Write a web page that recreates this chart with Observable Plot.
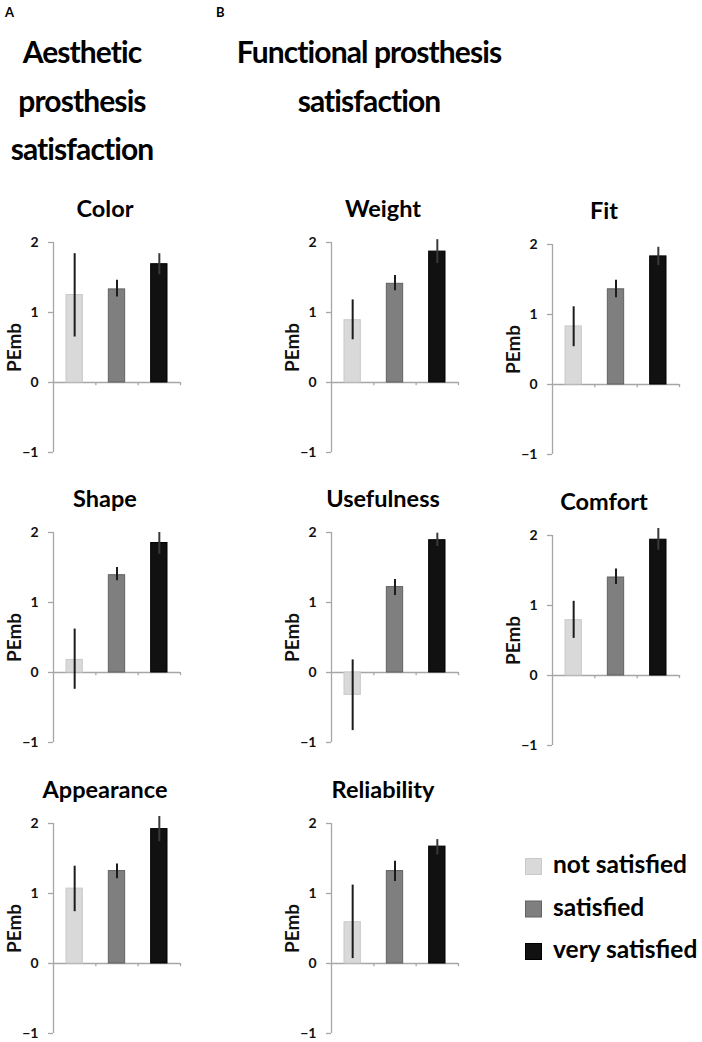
<!DOCTYPE html>
<html><head><meta charset="utf-8">
<script src="https://cdn.jsdelivr.net/npm/d3@7"></script>
<script src="https://cdn.jsdelivr.net/npm/@observablehq/plot@0.6"></script>
<style>
html,body{margin:0;padding:0;background:#fff;}
body{width:702px;height:1042px;overflow:hidden;position:relative;font-family:Lato,"Open Sans",sans-serif;}
#page{position:relative;width:702px;height:1042px;}
.panel{position:absolute;}
#overlay{position:absolute;left:0;top:0;}
</style>
</head><body>
<div id="page"></div>
<script>
// ---------- data ----------
const groups = ["not satisfied", "satisfied", "very satisfied"];
const panelNames = ["Color", "Shape", "Appearance", "Weight", "Usefulness", "Reliability", "Fit", "Comfort"];
const yTicks = [-1, 0, 1, 2];
const yLabel = "PEmb";
const headingA = ["Aesthetic", "prosthesis", "satisfaction"];
const headingB = ["Functional prosthesis", "satisfaction"];

const colorMean = [1.25, 1.33, 1.69];
const colorLow  = [0.65, 1.22, 1.54];
const colorHigh = [1.84, 1.46, 1.84];

const shapeMean = [0.18, 1.39, 1.85];
const shapeLow  = [-0.24, 1.31, 1.69];
const shapeHigh = [0.62, 1.50, 2.00];

const appearanceMean = [1.07, 1.32, 1.92];
const appearanceLow  = [0.74, 1.21, 1.74];
const appearanceHigh = [1.39, 1.42, 2.10];

const weightMean = [0.89, 1.41, 1.87];
const weightLow  = [0.61, 1.31, 1.70];
const weightHigh = [1.18, 1.53, 2.04];

const usefulnessMean = [-0.32, 1.22, 1.89];
const usefulnessLow  = [-0.83, 1.10, 1.80];
const usefulnessHigh = [0.18, 1.33, 1.99];

const reliabilityMean = [0.59, 1.32, 1.67];
const reliabilityLow  = [0.07, 1.17, 1.55];
const reliabilityHigh = [1.12, 1.46, 1.77];

const fitMean = [0.83, 1.36, 1.83];
const fitLow  = [0.54, 1.24, 1.70];
const fitHigh = [1.11, 1.49, 1.96];

const comfortMean = [0.79, 1.40, 1.94];
const comfortLow  = [0.53, 1.30, 1.79];
const comfortHigh = [1.06, 1.52, 2.10];

// ---------- styles & layout ----------
const fills   = ["#d9d9d9", "#7f7f7f", "#111111"];
const strokes = ["#cacaca", "#626262", "#000000"];
const errColors = ["#1c1c1c", "#1c1c1c", "#3a3a3a"];
const axisColor = "#a6a6a6";
const FONT = "Lato, 'Open Sans', sans-serif";

const series = {
  Color: [colorMean, colorLow, colorHigh],
  Shape: [shapeMean, shapeLow, shapeHigh],
  Appearance: [appearanceMean, appearanceLow, appearanceHigh],
  Weight: [weightMean, weightLow, weightHigh],
  Usefulness: [usefulnessMean, usefulnessLow, usefulnessHigh],
  Reliability: [reliabilityMean, reliabilityLow, reliabilityHigh],
  Fit: [fitMean, fitLow, fitHigh],
  Comfort: [comfortMean, comfortLow, comfortHigh]
};
// left edge of y-axis and y position of value 2 for each panel
const layout = {
  Color: [53, 242], Shape: [53, 532], Appearance: [53, 823],
  Weight: [331, 242], Usefulness: [331, 532], Reliability: [331, 823],
  Fit: [552, 244], Comfort: [552, 535]
};

const page = document.getElementById("page");
const mL = 52, mR = 6, mT = 8, mB = 6, W = 127, H = 210;

for (const name of panelNames) {
  const [m, lo, hi] = series[name];
  const data = groups.map((g, i) => ({g, i, m: m[i], lo: lo[i], hi: hi[i]}));
  const chart = Plot.plot({
    width: mL + W + mR,
    height: mT + H + mB,
    marginLeft: mL, marginRight: mR, marginTop: mT, marginBottom: mB,
    style: {fontFamily: FONT, background: "transparent", overflow: "visible"},
    x: {domain: [0, groups.length], axis: null},
    y: {domain: [yTicks[0], yTicks[yTicks.length - 1]], axis: null},
    marks: [
      Plot.ruleY([0], {stroke: axisColor, strokeWidth: 1.3}),
      Plot.ruleX(d3.range(1, groups.length + 1), {y1: 0, y2: -0.045, stroke: axisColor, strokeWidth: 1.3}),
      Plot.ruleX([0], {stroke: axisColor, strokeWidth: 1.3}),
      Plot.axisY({ticks: yTicks, tickSize: 5, tickPadding: 10, stroke: axisColor, strokeWidth: 1.3, fill: "#111",
                  fontSize: 14, fontWeight: "bold", label: null, tickFormat: d3.format("d")}),
      Plot.text([yLabel], {text: d => d, frameAnchor: "left", rotate: -90, dx: -33, textAnchor: "middle",
                  lineAnchor: "bottom", fontSize: 19, fontWeight: "bold", fill: "#111"}),
      Plot.rectY(data, {x1: "i", x2: d => d.i + 1, y1: 0, y2: "m",
                  fill: d => fills[d.i], stroke: d => strokes[d.i], strokeWidth: 1,
                  insetLeft: 13, insetRight: 13}),
      Plot.ruleX(data, {x: d => d.i + 0.5, y1: "lo", y2: "hi", stroke: d => errColors[d.i], strokeWidth: 2})
    ]
  });
  const [ax, y2] = layout[name];
  chart.classList.add("panel");
  chart.style.left = (ax - mL) + "px";
  chart.style.top = (y2 - mT) + "px";
  page.appendChild(chart);
}

// ---------- overlay: headings, panel titles, legend ----------
const svg = d3.select(page).append("svg").attr("id", "overlay")
  .attr("width", 702).attr("height", 1042).style("font-family", FONT).style("pointer-events", "none");

svg.append("text").attr("x", 5).attr("y", 17).attr("font-size", 13).attr("font-weight", "bold").text("A");
svg.append("text").attr("x", 216).attr("y", 17).attr("font-size", 13).attr("font-weight", "bold").text("B");

headingA.forEach((t, k) => svg.append("text").attr("x", 82).attr("y", 63 + k * 48.5)
  .attr("text-anchor", "middle").attr("font-size", 30).attr("letter-spacing", "-0.9px")
  .attr("font-weight", "bold").text(t));
headingB.forEach((t, k) => svg.append("text").attr("x", 369).attr("y", 63 + k * 48.5)
  .attr("text-anchor", "middle").attr("font-size", 30).attr("letter-spacing", "-0.9px")
  .attr("font-weight", "bold").text(t));

for (const name of panelNames) {
  const [ax, y2] = layout[name];
  svg.append("text").attr("x", ax + 52).attr("y", y2 - 25).attr("text-anchor", "middle")
    .attr("font-size", 23.5).attr("font-weight", "bold").text(name);
}

groups.forEach((g, i) => {
  const y = 858 + i * 42.5;
  svg.append("rect").attr("x", 525.5).attr("y", y + 0.5).attr("width", 16).attr("height", 16)
    .attr("fill", fills[i]).attr("stroke", strokes[i]);
  svg.append("text").attr("x", 553).attr("y", y + 15).attr("font-size", 24.5).attr("font-weight", "bold").text(g);
});
</script>
</body></html>
